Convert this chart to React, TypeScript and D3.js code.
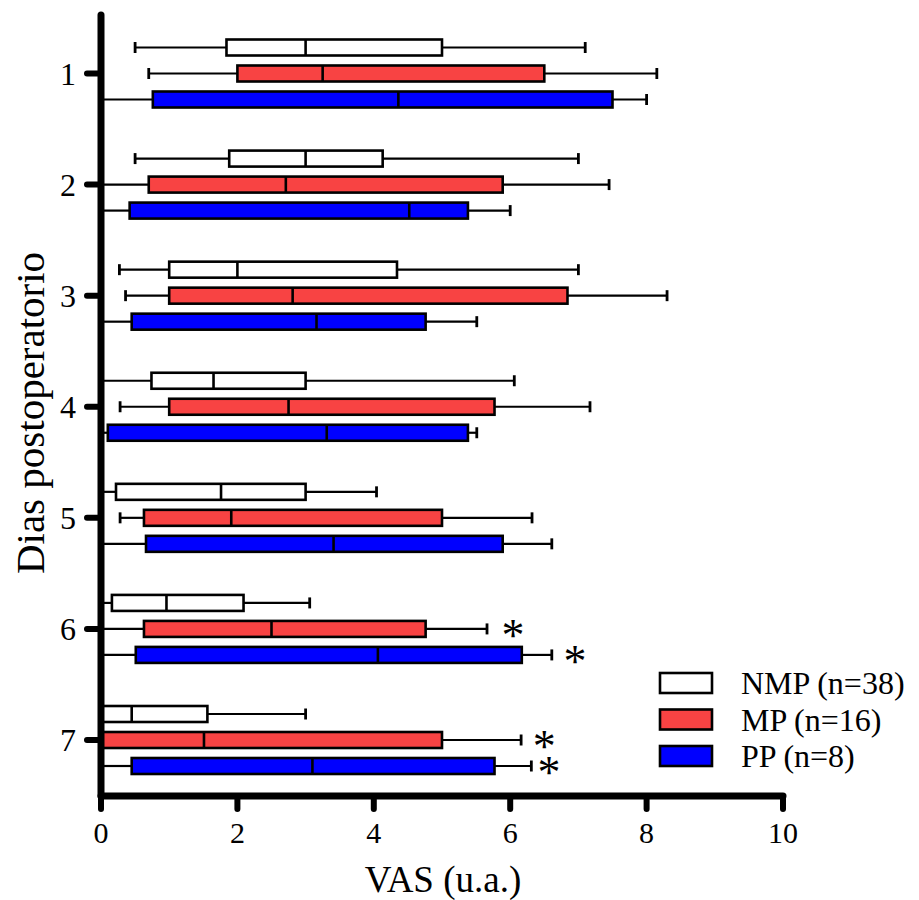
import React from "react";
import * as d3 from "d3";

const days = [1, 2, 3, 4, 5, 6, 7];
const groupNames = ["NMP (n=38)", "MP (n=16)", "PP (n=8)"];
const groupColors = ["#FFFFFF", "#F84343", "#0000FF"];

// [whiskerLow, Q1, median, Q3, whiskerHigh] per day
const nmpStats = [
  [0.5, 1.84, 3.0, 5.0, 7.1],
  [0.5, 1.88, 3.0, 4.13, 7.0],
  [0.27, 1.0, 2.0, 4.34, 7.0],
  [0, 0.74, 1.65, 3.0, 6.06],
  [0, 0.22, 1.76, 3.0, 4.04],
  [0, 0.16, 0.96, 2.09, 3.06],
  [0, 0.02, 0.45, 1.56, 3.0],
];
const mpStats = [
  [0.7, 2.0, 3.25, 6.5, 8.15],
  [0, 0.7, 2.71, 5.89, 7.45],
  [0.36, 1.0, 2.81, 6.84, 8.3],
  [0.28, 1.0, 2.75, 5.77, 7.17],
  [0.28, 0.63, 1.91, 5.0, 6.32],
  [0, 0.63, 2.5, 4.76, 5.66],
  [0, 0, 1.51, 5.0, 6.16],
];
const ppStats = [
  [0, 0.76, 4.36, 7.5, 8.0],
  [0, 0.42, 4.52, 5.38, 6.0],
  [0, 0.45, 3.16, 4.76, 5.51],
  [0, 0.1, 3.31, 5.38, 5.51],
  [0, 0.66, 3.41, 5.89, 6.61],
  [0, 0.51, 4.06, 6.17, 6.61],
  [0, 0.45, 3.1, 5.77, 6.31],
];
const allStats = [nmpStats, mpStats, ppStats];

// significance marks: day, group index, x position (VAS units)
const sigDays = [6, 6, 7, 7];
const sigGroups = [1, 2, 1, 2];
const sigX = [6.04, 6.95, 6.5, 6.57];

const xTicks = [0, 2, 4, 6, 8, 10];

const FONT = "Liberation Serif, DejaVu Serif, Times New Roman, serif";

export default function App() {
  const x = d3.scaleLinear().domain([0, 10]).range([101, 783]);
  const y = d3.scaleLinear().domain([1, 7]).range([73.5, 740]);
  const offsets = [-26, 0, 26];
  const boxH = 16;
  const capH = 11;
  const axisY = 796;
  const axisX = 101;

  return (
    <svg
      width={919}
      height={900}
      style={{ position: "absolute", left: 0, top: 0, background: "#fff" }}
    >
      {/* boxes */}
      {days.map((d, di) =>
        allStats.map((stats, gi) => {
          const s = stats[di];
          const cy = y(d) + offsets[gi];
          return (
            <g key={`b${d}-${gi}`}>
              <line x1={x(s[0])} x2={x(s[1])} y1={cy} y2={cy} stroke="#000" strokeWidth={2.2} />
              <line x1={x(s[3])} x2={x(s[4])} y1={cy} y2={cy} stroke="#000" strokeWidth={2.2} />
              <line x1={x(s[0])} x2={x(s[0])} y1={cy - capH / 2} y2={cy + capH / 2} stroke="#000" strokeWidth={2.8} />
              <line x1={x(s[4])} x2={x(s[4])} y1={cy - capH / 2} y2={cy + capH / 2} stroke="#000" strokeWidth={2.8} />
              <rect
                x={x(s[1])}
                y={cy - boxH / 2}
                width={x(s[3]) - x(s[1])}
                height={boxH}
                fill={groupColors[gi]}
                stroke="#000"
                strokeWidth={2.6}
              />
              <line x1={x(s[2])} x2={x(s[2])} y1={cy - boxH / 2} y2={cy + boxH / 2} stroke="#000" strokeWidth={2.6} />
            </g>
          );
        })
      )}

      {/* significance asterisks */}
      {sigDays.map((d, i) => (
        <text
          key={`s${i}`}
          x={x(sigX[i])}
          y={y(d) + offsets[sigGroups[i]] + 22}
          fontSize={46}
          textAnchor="middle"
          fill="#000"
          fontFamily={FONT}
        >
          *
        </text>
      ))}

      {/* y axis */}
      <line x1={axisX} x2={axisX} y1={15} y2={axisY} stroke="#000" strokeWidth={7} strokeLinecap="round" />
      {days.map((d) => (
        <g key={`yt${d}`}>
          <line x1={87} x2={axisX} y1={y(d)} y2={y(d)} stroke="#000" strokeWidth={6} strokeLinecap="round" />
          <text x={68} y={y(d) + 11} fontSize={32} textAnchor="middle" fill="#000" fontFamily={FONT}>
            {d}
          </text>
        </g>
      ))}

      {/* x axis */}
      <line x1={x(0)} x2={x(10)} y1={axisY} y2={axisY} stroke="#000" strokeWidth={7} strokeLinecap="round" />
      {xTicks.map((t) => (
        <g key={`xt${t}`}>
          <line x1={x(t)} x2={x(t)} y1={axisY} y2={axisY + 13} stroke="#000" strokeWidth={6} strokeLinecap="round" />
          <text x={x(t)} y={843} fontSize={30} textAnchor="middle" fill="#000" fontFamily={FONT}>
            {t}
          </text>
        </g>
      ))}

      {/* axis titles */}
      <text x={443} y={892} fontSize={37} textAnchor="middle" fill="#000" fontFamily={FONT}>
        VAS (u.a.)
      </text>
      <text
        transform={`translate(44, 413) rotate(-90)`}
        fontSize={41}
        textAnchor="middle"
        fill="#000"
        fontFamily={FONT}
      >
        Dias postoperatorio
      </text>

      {/* legend */}
      {groupNames.map((n, i) => (
        <g key={`lg${i}`} transform={`translate(660, ${683 + i * 36.5})`}>
          <rect x={0} y={-10} width={52} height={20} fill={groupColors[i]} stroke="#000" strokeWidth={2.6} />
          <text x={81} y={11} fontSize={32} fill="#000" fontFamily={FONT}>
            {n}
          </text>
        </g>
      ))}
    </svg>
  );
}
